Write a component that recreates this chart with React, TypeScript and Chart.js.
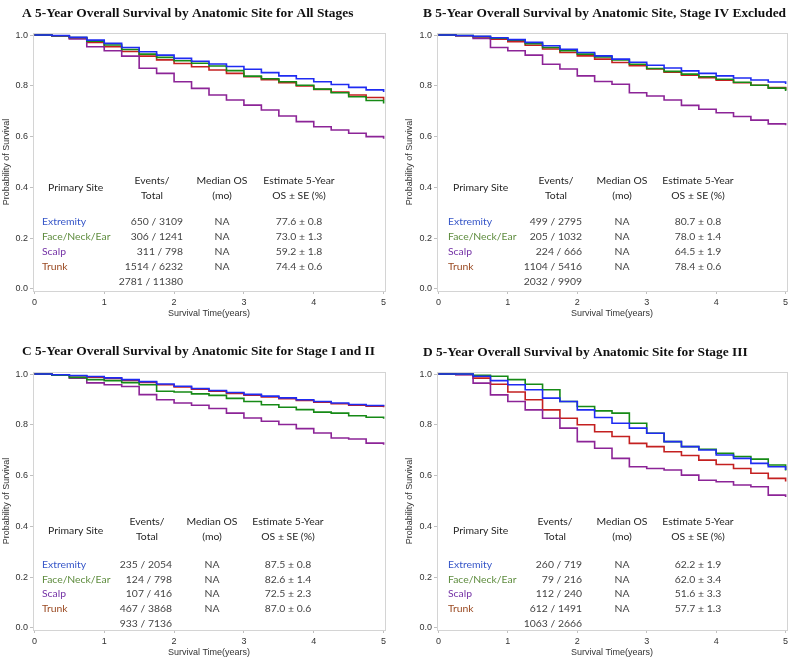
import React, { useEffect, useRef } from "react";
import { Chart, registerables } from "chart.js";

Chart.register(...registerables);

// ---------- shared data ----------
const TIMES = [0, 0.25, 0.5, 0.75, 1, 1.25, 1.5, 1.75, 2, 2.25, 2.5, 2.75, 3, 3.25, 3.5, 3.75, 4, 4.25, 4.5, 4.75, 5];
const X_TICKS = [0, 1, 2, 3, 4, 5];
const Y_TICKS = [0, 0.2, 0.4, 0.6, 0.8, 1];
const SITES = ["Extremity", "Face/Neck/Ear", "Scalp", "Trunk"];
const HEADERS = ["Primary Site", "Events/", "Total", "Median OS", "(mo)", "Estimate 5-Year", "OS \u00b1 SE (%)"];
const MEDIAN = ["NA", "NA", "NA", "NA"];
const X_TITLE = "Survival Time(years)";
const Y_TITLE = "Probability of Survival";

// ---------- panel A ----------
const A_TITLE = "A 5-Year Overall Survival by Anatomic Site for All Stages";
const A_EXTREMITY = [1, 0.998, 0.991, 0.98, 0.967, 0.951, 0.934, 0.921, 0.908, 0.897, 0.886, 0.876, 0.865, 0.852, 0.839, 0.828, 0.816, 0.805, 0.794, 0.784, 0.776];
const A_FACE = [1, 0.997, 0.99, 0.976, 0.961, 0.943, 0.925, 0.912, 0.899, 0.889, 0.878, 0.86, 0.838, 0.828, 0.816, 0.802, 0.787, 0.773, 0.757, 0.742, 0.73];
const A_SCALP = [1, 0.996, 0.985, 0.954, 0.938, 0.917, 0.869, 0.849, 0.816, 0.79, 0.764, 0.744, 0.724, 0.705, 0.681, 0.659, 0.639, 0.626, 0.613, 0.6, 0.592];
const A_TRUNK = [1, 0.996, 0.988, 0.971, 0.954, 0.935, 0.917, 0.902, 0.888, 0.875, 0.862, 0.849, 0.836, 0.824, 0.812, 0.799, 0.786, 0.775, 0.764, 0.754, 0.744];
const A_EVENTS = ["650 / 3109", "306 / 1241", "311 / 798", "1514 / 6232"];
const A_TOTAL = "2781 / 11380";
const A_EST = ["77.6 \u00b1 0.8", "73.0 \u00b1 1.3", "59.2 \u00b1 1.8", "74.4 \u00b1 0.6"];

// ---------- panel B ----------
const B_TITLE = "B 5-Year Overall Survival by Anatomic Site, Stage IV Excluded";
const B_EXTREMITY = [1, 0.998, 0.995, 0.989, 0.982, 0.971, 0.958, 0.944, 0.931, 0.918, 0.905, 0.893, 0.881, 0.87, 0.859, 0.849, 0.839, 0.831, 0.823, 0.815, 0.807];
const B_FACE = [1, 0.998, 0.994, 0.988, 0.98, 0.966, 0.951, 0.938, 0.925, 0.914, 0.902, 0.885, 0.868, 0.857, 0.846, 0.836, 0.826, 0.814, 0.802, 0.791, 0.78];
const B_SCALP = [1, 0.997, 0.987, 0.951, 0.938, 0.921, 0.885, 0.866, 0.839, 0.817, 0.806, 0.773, 0.76, 0.744, 0.723, 0.708, 0.694, 0.679, 0.665, 0.65, 0.645];
const B_TRUNK = [1, 0.997, 0.992, 0.984, 0.974, 0.96, 0.945, 0.931, 0.918, 0.905, 0.892, 0.879, 0.866, 0.854, 0.842, 0.832, 0.822, 0.812, 0.802, 0.793, 0.784];
const B_EVENTS = ["499 / 2795", "205 / 1032", "224 / 666", "1104 / 5416"];
const B_TOTAL = "2032 / 9909";
const B_EST = ["80.7 \u00b1 0.8", "78.0 \u00b1 1.4", "64.5 \u00b1 1.9", "78.4 \u00b1 0.6"];

// ---------- panel C ----------
const C_TITLE = "C 5-Year Overall Survival by Anatomic Site for Stage I and II";
const C_EXTREMITY = [1, 0.997, 0.994, 0.99, 0.985, 0.978, 0.97, 0.961, 0.952, 0.943, 0.935, 0.927, 0.92, 0.913, 0.906, 0.899, 0.892, 0.886, 0.88, 0.876, 0.873];
const C_FACE = [1, 0.995, 0.987, 0.978, 0.974, 0.966, 0.958, 0.932, 0.929, 0.922, 0.916, 0.904, 0.892, 0.879, 0.869, 0.86, 0.85, 0.846, 0.836, 0.83, 0.824];
const C_SCALP = [1, 0.995, 0.984, 0.965, 0.958, 0.951, 0.919, 0.899, 0.886, 0.877, 0.864, 0.846, 0.827, 0.814, 0.801, 0.785, 0.768, 0.748, 0.744, 0.728, 0.722];
const C_TRUNK = [1, 0.997, 0.993, 0.988, 0.983, 0.975, 0.967, 0.958, 0.949, 0.94, 0.932, 0.924, 0.917, 0.91, 0.903, 0.896, 0.889, 0.883, 0.877, 0.873, 0.869];
const C_EVENTS = ["235 / 2054", "124 / 798", "107 / 416", "467 / 3868"];
const C_TOTAL = "933 / 7136";
const C_EST = ["87.5 \u00b1 0.8", "82.6 \u00b1 1.4", "72.5 \u00b1 2.3", "87.0 \u00b1 0.6"];

// ---------- panel D ----------
const D_TITLE = "D 5-Year Overall Survival by Anatomic Site for Stage III";
const D_EXTREMITY = [1, 1, 0.991, 0.974, 0.958, 0.938, 0.905, 0.892, 0.859, 0.829, 0.806, 0.787, 0.767, 0.734, 0.714, 0.701, 0.681, 0.668, 0.648, 0.635, 0.622];
const D_FACE = [1, 1, 0.995, 0.991, 0.978, 0.96, 0.938, 0.892, 0.872, 0.855, 0.846, 0.806, 0.767, 0.734, 0.714, 0.704, 0.688, 0.675, 0.665, 0.642, 0.62];
const D_SCALP = [1, 0.997, 0.964, 0.918, 0.892, 0.859, 0.826, 0.787, 0.734, 0.708, 0.668, 0.635, 0.628, 0.622, 0.602, 0.582, 0.576, 0.563, 0.556, 0.523, 0.516];
const D_TRUNK = [1, 0.998, 0.984, 0.96, 0.929, 0.899, 0.859, 0.826, 0.8, 0.773, 0.754, 0.727, 0.714, 0.694, 0.679, 0.661, 0.644, 0.628, 0.609, 0.589, 0.577];
const D_EVENTS = ["260 / 719", "79 / 216", "112 / 240", "612 / 1491"];
const D_TOTAL = "1063 / 2666";
const D_EST = ["62.2 \u00b1 1.9", "62.0 \u00b1 3.4", "51.6 \u00b1 3.3", "57.7 \u00b1 1.3"];

// ---------- styles ----------
const LINE_COLORS = ["#1f2bf2", "#168a16", "#8c2497", "#c42020"];
const TEXT_COLORS = ["#3656c8", "#5e8c3e", "#7432a6", "#9a4a22"];
const DRAW_ORDER = [0, 1, 2, 3];

const CANVAS_W = 400;
const CANVAS_H = 324;

type TableLayout = {
  site: number; primary: number; evRight: number; evHdr: number; med: number; est: number;
  hdr1: number; hdr2: number; prim: number; rows: number[];
};

type PanelDef = {
  left: number; top: number; title: string; titleX: number; titleY: number;
  areaLeft: number; areaRight: number; yTitlePad: number;
  series: number[][]; events: string[]; total: string; est: string[]; table: TableLayout;
};

const TABLE_TOP: TableLayout = { site: 42, primary: 48, evRight: 183, evHdr: 152, med: 222, est: 299, hdr1: 181, hdr2: 196, prim: 188, rows: [222, 237, 252, 267, 282] };

const PANELS: PanelDef[] = [
  {
    left: 0, top: 0, title: A_TITLE, titleX: 22, titleY: 14, areaLeft: 33, areaRight: 385, yTitlePad: 1.6,
    series: [A_EXTREMITY, A_FACE, A_SCALP, A_TRUNK], events: A_EVENTS, total: A_TOTAL, est: A_EST,
    table: TABLE_TOP,
  },
  {
    left: 400, top: 0, title: B_TITLE, titleX: 23, titleY: 14, areaLeft: 37, areaRight: 387, yTitlePad: 4.6,
    series: [B_EXTREMITY, B_FACE, B_SCALP, B_TRUNK], events: B_EVENTS, total: B_TOTAL, est: B_EST,
    table: { site: 48, primary: 53, evRight: 182, evHdr: 156, med: 222, est: 298, hdr1: 181, hdr2: 196, prim: 188, rows: [222, 237, 252, 267, 282] },
  },
  {
    left: 0, top: 339, title: C_TITLE, titleX: 22, titleY: 13, areaLeft: 33, areaRight: 385, yTitlePad: 1.6,
    series: [C_EXTREMITY, C_FACE, C_SCALP, C_TRUNK], events: C_EVENTS, total: C_TOTAL, est: C_EST,
    table: { site: 42, primary: 48, evRight: 172, evHdr: 147, med: 212, est: 288, hdr1: 183, hdr2: 198, prim: 192, rows: [226, 241, 255, 270, 285] },
  },
  {
    left: 400, top: 339, title: D_TITLE, titleX: 23, titleY: 14, areaLeft: 37, areaRight: 387, yTitlePad: 4.6,
    series: [D_EXTREMITY, D_FACE, D_SCALP, D_TRUNK], events: D_EVENTS, total: D_TOTAL, est: D_EST,
    table: { site: 48, primary: 53, evRight: 182, evHdr: 155, med: 222, est: 298, hdr1: 183, hdr2: 198, prim: 192, rows: [226, 241, 255, 270, 285] },
  },
];

const TABLE_FONT = '10.4px Lato, "Open Sans", sans-serif';
const TITLE_FONT = 'bold 13.4px "Liberation Serif", "Times New Roman", serif';
const AXIS_FONT_FAMILY = '"Liberation Sans", Arial, sans-serif';

function makePlugins(p: PanelDef) {
  const frame = {
    id: "frame",
    beforeDatasetsDraw(chart: any) {
      const { ctx, chartArea: a } = chart;
      ctx.save();
      ctx.strokeStyle = "#d4d4d4";
      ctx.lineWidth = 1;
      ctx.strokeRect(Math.round(a.left) + 0.5, Math.round(a.top) + 0.5, Math.round(a.right - a.left), Math.round(a.bottom - a.top));
      ctx.restore();
    },
  };
  const texts = {
    id: "texts",
    afterDraw(chart: any) {
      const ctx = chart.ctx as CanvasRenderingContext2D;
      const t = p.table;
      ctx.save();
      ctx.textBaseline = "middle";
      // panel title
      ctx.font = TITLE_FONT;
      ctx.fillStyle = "#111";
      ctx.textAlign = "left";
      ctx.fillText(p.title, p.titleX, p.titleY);
      // headers
      ctx.font = TABLE_FONT;
      ctx.fillStyle = "#262626";
      ctx.textAlign = "left";
      ctx.fillText(HEADERS[0], t.primary, t.prim);
      ctx.textAlign = "center";
      ctx.fillText(HEADERS[1], t.evHdr, t.hdr1);
      ctx.fillText(HEADERS[2], t.evHdr, t.hdr2);
      ctx.fillText(HEADERS[3], t.med, t.hdr1);
      ctx.fillText(HEADERS[4], t.med, t.hdr2);
      ctx.fillText(HEADERS[5], t.est, t.hdr1);
      ctx.fillText(HEADERS[6], t.est, t.hdr2);
      // rows
      SITES.forEach((s, i) => {
        const y = t.rows[i];
        ctx.textAlign = "left";
        ctx.fillStyle = TEXT_COLORS[i];
        ctx.fillText(s, t.site, y);
        ctx.fillStyle = "#444";
        ctx.textAlign = "right";
        ctx.fillText(p.events[i], t.evRight, y);
        ctx.textAlign = "center";
        ctx.fillText(MEDIAN[i], t.med, y);
        ctx.fillText(p.est[i], t.est, y);
      });
      ctx.textAlign = "right";
      ctx.fillStyle = "#444";
      ctx.fillText(p.total, t.evRight, t.rows[4]);
      ctx.restore();
    },
  };
  return [frame, texts];
}

function makeChart(canvas: HTMLCanvasElement, p: PanelDef) {
  const datasets = DRAW_ORDER.map((i) => ({
    label: SITES[i],
    data: TIMES.map((t, j) => ({ x: t, y: p.series[i][j] })),
    borderColor: LINE_COLORS[i],
    backgroundColor: LINE_COLORS[i],
    borderWidth: 1.6,
    pointRadius: 0,
    stepped: true as const,
    fill: false,
  }));
  return new Chart(canvas, {
    type: "line",
    data: { datasets },
    options: {
      animation: false,
      responsive: false,
      devicePixelRatio: 1,
      layout: { padding: { left: 0, right: CANVAS_W - p.areaRight, top: 33, bottom: 0 } },
      plugins: { legend: { display: false }, tooltip: { enabled: false }, title: { display: false } },
      scales: {
        x: {
          type: "linear",
          min: -0.02,
          max: 5.02,
          afterBuildTicks: (s: any) => { s.ticks = X_TICKS.map((v) => ({ value: v })); },
          afterFit: (s: any) => { s.height = 33; },
          grid: { drawOnChartArea: false, drawTicks: true, tickLength: 3, color: "#c0c0c0" },
          border: { color: "#c8c8c8" },
          ticks: {
            font: { family: AXIS_FONT_FAMILY, size: 9 },
            color: "#333",
            padding: 3,
            maxRotation: 0,
            callback: (v: any) => String(v),
          },
          title: {
            display: true,
            text: X_TITLE,
            font: { family: AXIS_FONT_FAMILY, size: 9 },
            color: "#333",
            padding: { top: 0, bottom: 4.6 },
          },
        },
        y: {
          type: "linear",
          min: -0.008,
          max: 1.008,
          afterBuildTicks: (s: any) => { s.ticks = Y_TICKS.map((v) => ({ value: v })); },
          afterFit: (s: any) => { s.width = p.areaLeft; },
          grid: { drawOnChartArea: false, drawTicks: true, tickLength: 3, color: "#c0c0c0" },
          border: { color: "#c8c8c8", dash: [2, 2] },
          ticks: {
            font: { family: AXIS_FONT_FAMILY, size: 9 },
            color: "#333",
            padding: 2,
            callback: (v: any) => Number(v).toFixed(1),
          },
          title: {
            display: true,
            text: Y_TITLE,
            font: { family: AXIS_FONT_FAMILY, size: 9 },
            color: "#333",
            padding: { top: p.yTitlePad, bottom: 0 },
          },
        },
      },
    },
    plugins: makePlugins(p) as any,
  });
}

export default function App() {
  const refs = useRef<(HTMLCanvasElement | null)[]>([]);
  useEffect(() => {
    const charts = PANELS.map((p, i) => makeChart(refs.current[i] as HTMLCanvasElement, p));
    return () => charts.forEach((c) => c.destroy());
  }, []);
  return (
    <div style={{ position: "fixed", left: 0, top: 0, width: 800, height: 663, background: "#fff" }}>
      {PANELS.map((p, i) => (
        <canvas
          key={i}
          ref={(el) => { refs.current[i] = el; }}
          width={CANVAS_W}
          height={CANVAS_H}
          style={{ position: "absolute", left: p.left, top: p.top, width: CANVAS_W, height: CANVAS_H }}
        />
      ))}
    </div>
  );
}
